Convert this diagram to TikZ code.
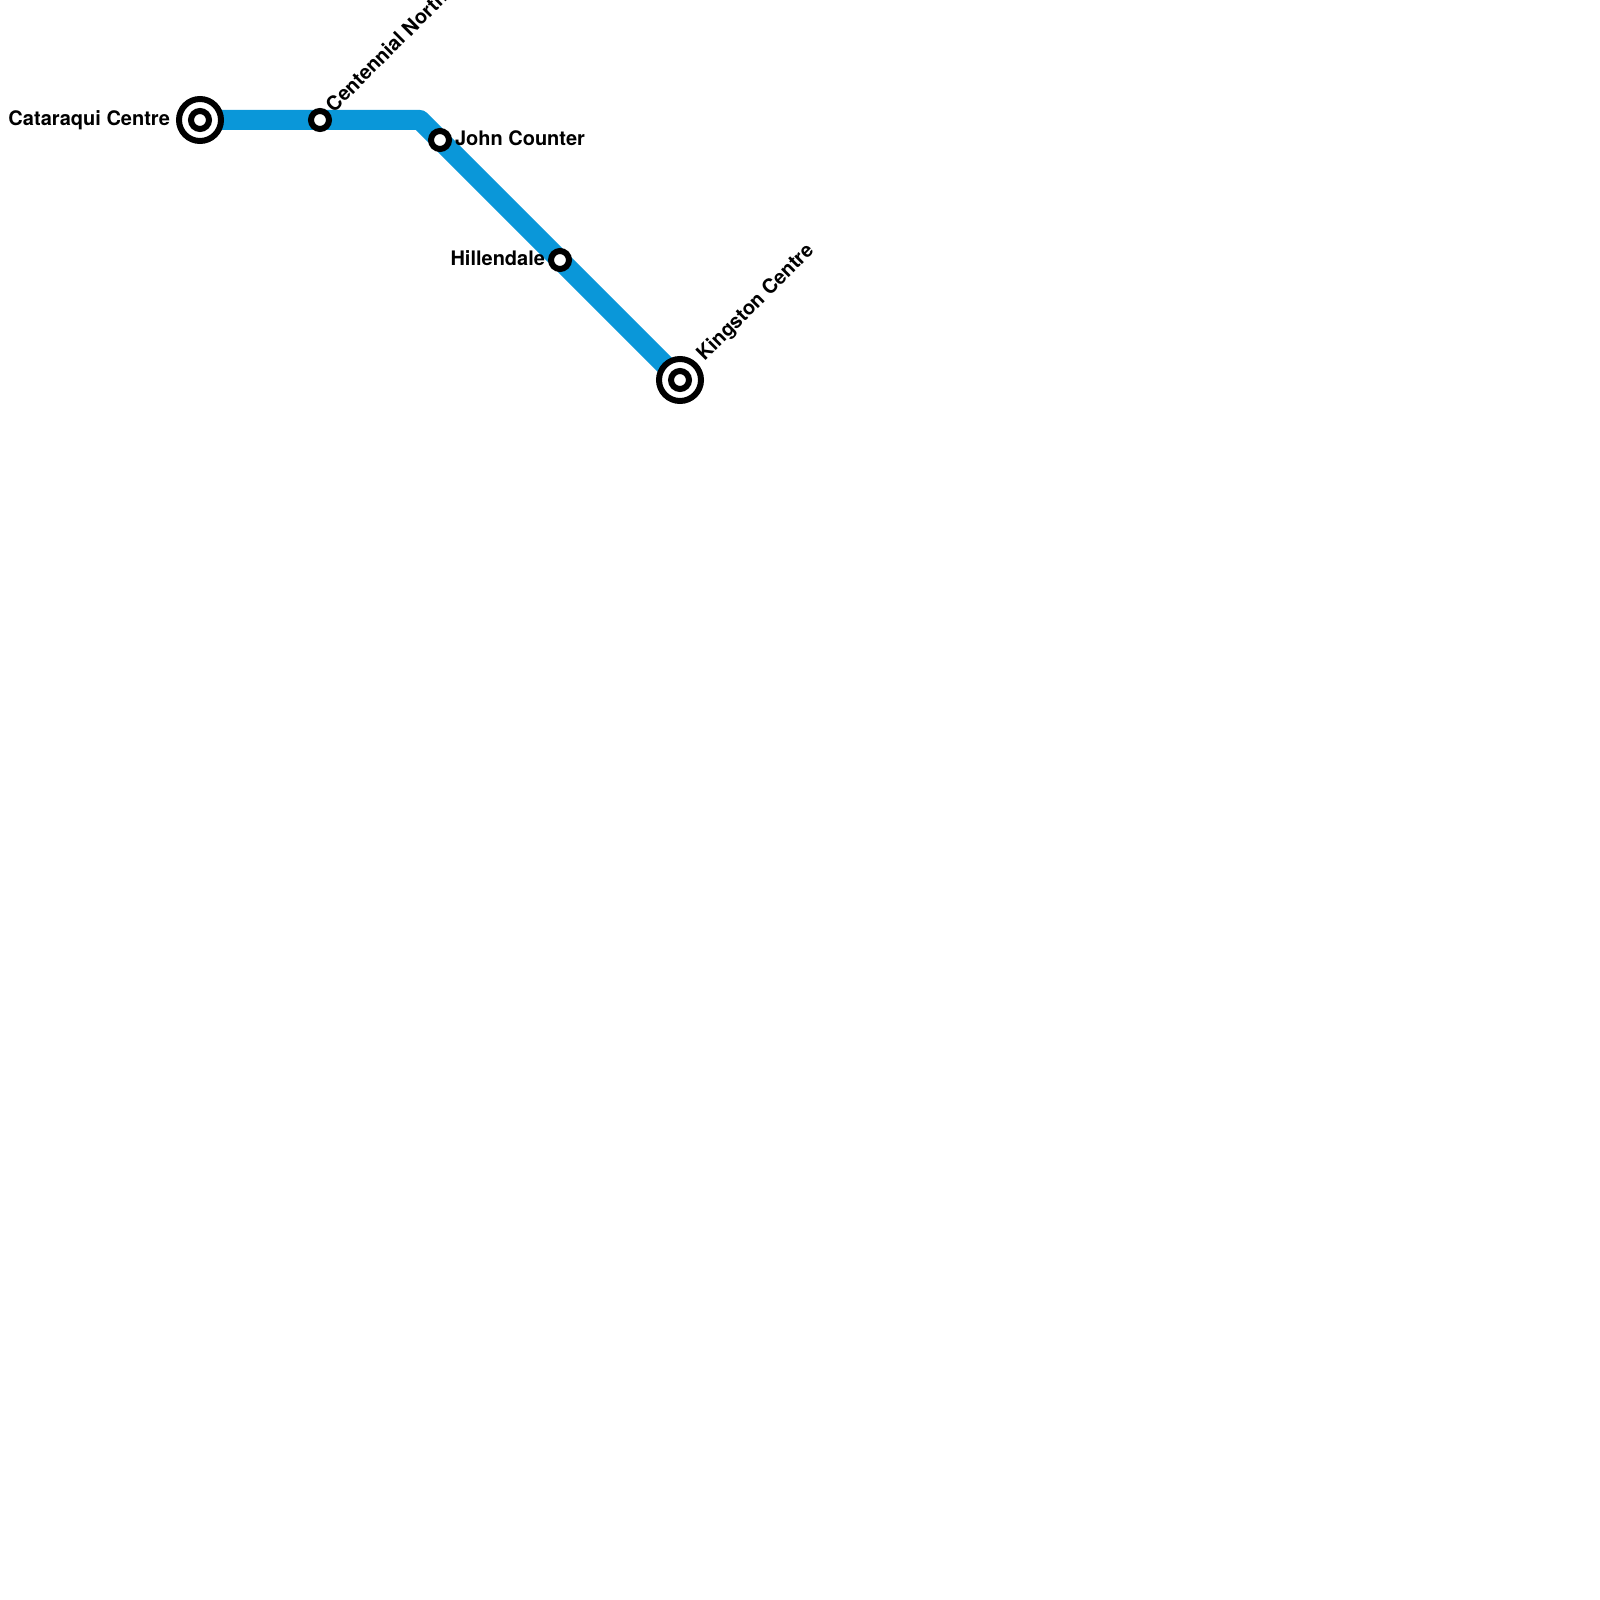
\documentclass[tikz,border=0pt]{standalone}
\usepackage{fontspec}
\setmainfont{TeX Gyre Heros}
\definecolor{lineblue}{HTML}{0A97D9}
\tikzset{
  stationdot/.style={circle,draw=black,fill=white,line width=3pt,minimum size=9pt,inner sep=0pt,outer sep=0pt},
  terminalouter/.style={circle,draw=black,fill=white,line width=3pt,minimum size=21pt,inner sep=0pt,outer sep=0pt},
  terminalinner/.style={circle,draw=black,fill=white,line width=3pt,minimum size=9pt,inner sep=0pt,outer sep=0pt},
  stationlabel/.style={inner sep=0pt,outer sep=0pt,font=\fontsize{10}{12}\selectfont\bfseries},
  routeline/.style={draw=lineblue,line width=10pt,line join=round}
}
\begin{document}
\begin{tikzpicture}[x=0.5pt,y=-0.5pt]
\useasboundingbox (0,0) rectangle (1600,1600);
\coordinate (bend) at (420,120);
\coordinate (catC) at (200,120);
\coordinate (kingC) at (680,380);
\draw[routeline] (catC) -- (bend) -- (kingC);
\node[terminalouter] (catO) at (catC) {};
\node[terminalinner] (catI) at (catC) {};
\node[terminalouter] (kingO) at (kingC) {};
\node[terminalinner] (kingI) at (kingC) {};
\node[stationdot] (cent) at (320,120) {};
\node[stationdot] (john) at (440,140) {};
\node[stationdot] (hill) at (560,260) {};
\node[stationlabel,anchor=east] (lcat) at (170,120) {Cataraqui Centre};
\node[stationlabel,anchor=west,rotate=45] (lcent) at (329,108) {Centennial North};
\node[stationlabel,anchor=west] (ljohn) at (455,138) {John Counter};
\node[stationlabel,anchor=east] (lhill) at (545,258) {Hillendale};
\node[stationlabel,anchor=west,rotate=45] (lking) at (701,358) {Kingston Centre};
\end{tikzpicture}
\end{document}
